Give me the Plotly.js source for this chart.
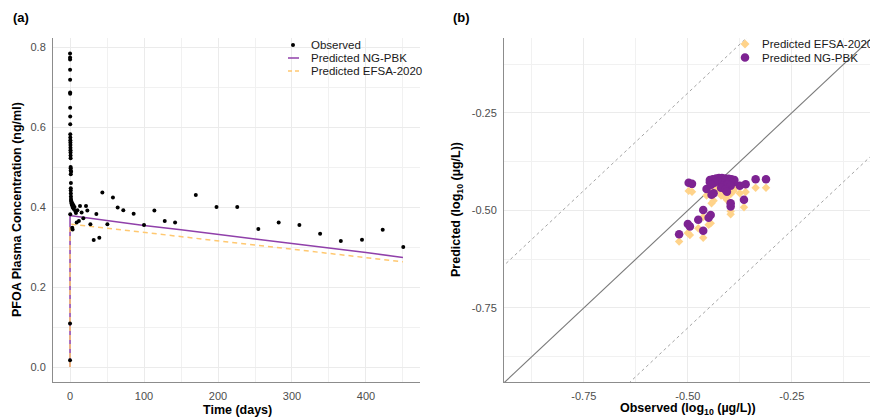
<!DOCTYPE html>
<html>
<head>
<meta charset="utf-8">
<script src="https://cdn.plot.ly/plotly-3.0.1.min.js"></script>
<style>html,body{margin:0;padding:0;background:#fff;}#chart{width:870px;height:418px;}</style>
</head>
<body>
<div id="chart"></div>
<script>
// ---------- Panel (a): observed PFOA plasma concentration over time ----------
const obsTime = [0.01,0.02,0.04,0.06,0.08,0.1,0.12,0.15,0.17,0.2,0.25,0.3,0.35,0.4,0.45,0.5,0.55,0.6,0.65,0.7,0.75,0.8,0.85,0.9,0.95,1.5,1.0,1.2,1.0,1.0,1.1,1.2,1.3,1.5,1.6,2,2.5,3,3.5,4,4.5,5,6,7,8,9,10,12,13.5,15.7,18,21.6,23.4,0.3,3,3.5,27.5,32,35.6,39.6,43.7,50.5,58,64.4,72,86,100,114,128,142,170,198,226,254.5,282,310,338,366,394.6,422.6,450.4];
const obsConc = [0.017,0.109,0.784,0.774,0.769,0.743,0.718,0.686,0.683,0.648,0.626,0.607,0.582,0.574,0.567,0.561,0.555,0.548,0.542,0.536,0.529,0.522,0.500,0.497,0.491,0.488,0.482,0.460,0.447,0.441,0.434,0.426,0.420,0.416,0.413,0.409,0.405,0.410,0.400,0.398,0.405,0.395,0.400,0.390,0.385,0.361,0.392,0.365,0.4025,0.386,0.372,0.4025,0.391,0.382,0.348,0.344,0.357,0.3175,0.3825,0.323,0.436,0.357,0.4235,0.399,0.392,0.383,0.355,0.391,0.365,0.361,0.430,0.400,0.400,0.345,0.361,0.355,0.333,0.315,0.318,0.343,0.300];

const ngTime  = [0, 0.02, 2, 50, 100, 150, 200, 250, 300, 350, 400, 450];
const ngConc  = [0, 0.378, 0.378, 0.366, 0.354, 0.343, 0.331, 0.320, 0.309, 0.298, 0.286, 0.274];
const efTime  = [0, 0.02, 2, 50, 100, 150, 200, 250, 300, 350, 400, 450];
const efConc  = [0, 0.357, 0.357, 0.347, 0.336, 0.326, 0.315, 0.305, 0.294, 0.284, 0.273, 0.263];

// ---------- Panel (b): predicted vs observed (log10 µg/L) ----------
const obsLog  = [-0.521,-0.463,-0.500,-0.495,-0.475,-0.450,-0.445,-0.463,-0.397,-0.397,-0.365,-0.443,-0.438,-0.408,-0.455,-0.417,-0.407,-0.375,-0.361,-0.447,-0.498,-0.490,-0.337,-0.312,
                 -0.447,-0.440,-0.432,-0.425,-0.418,-0.410,-0.402,-0.395,-0.388,-0.390,-0.398,-0.413,-0.420,-0.428,-0.436,-0.444,-0.416,-0.404,-0.397,-0.420,-0.410,-0.406];
const ngLog   = [-0.561,-0.552,-0.535,-0.541,-0.524,-0.519,-0.512,-0.499,-0.490,-0.482,-0.473,-0.460,-0.456,-0.447,-0.445,-0.438,-0.433,-0.437,-0.433,-0.428,-0.429,-0.432,-0.420,-0.420,
                 -0.422,-0.420,-0.418,-0.417,-0.417,-0.418,-0.419,-0.420,-0.422,-0.428,-0.427,-0.424,-0.428,-0.426,-0.429,-0.434,-0.436,-0.433,-0.437,-0.442,-0.446,-0.452];
const efsaLog = [-0.580,-0.570,-0.558,-0.563,-0.546,-0.537,-0.533,-0.517,-0.510,-0.502,-0.492,-0.482,-0.475,-0.469,-0.462,-0.458,-0.452,-0.456,-0.453,-0.448,-0.450,-0.452,-0.442,-0.442,
                 -0.445,-0.443,-0.441,-0.440,-0.439,-0.440,-0.441,-0.442,-0.444,-0.450,-0.449,-0.446,-0.450,-0.448,-0.451,-0.455,-0.457,-0.454,-0.458,-0.462,-0.466,-0.473];

// reference lines (1:1 and 2-fold)
const refX     = [-1, 0];
const refY     = [-1, 0];
const upperY   = [-0.699, 0.301];
const lowerY   = [-1.301, -0.301];

const W = 870, H = 418;
const px = v => v / W;
const py = v => 1 - v / H;

const PURPLE = '#7D2392';
const PURPLE_LINE = '#9040AA';
const ORANGE = '#FFD38A';
const ORANGE_LINE = '#FFC870';
const FONT = 'Liberation Sans, Arial, Helvetica, sans-serif';

const traces = [
  {x: ngTime, y: ngConc, type: 'scatter', mode: 'lines', line: {color: PURPLE_LINE, width: 1.5}, xaxis: 'x', yaxis: 'y', showlegend: false, hoverinfo: 'skip'},
  {x: efTime, y: efConc, type: 'scatter', mode: 'lines', line: {color: ORANGE_LINE, width: 1.5, dash: '5px,4px'}, xaxis: 'x', yaxis: 'y', showlegend: false},
  {x: obsTime, y: obsConc, type: 'scatter', mode: 'markers', marker: {color: '#000', size: 4}, xaxis: 'x', yaxis: 'y', showlegend: false},

  {x: refX, y: upperY, type: 'scatter', mode: 'lines', line: {color: '#9a9a9a', width: 0.9, dash: '3px,3px'}, xaxis: 'x2', yaxis: 'y2', showlegend: false},
  {x: refX, y: lowerY, type: 'scatter', mode: 'lines', line: {color: '#9a9a9a', width: 0.9, dash: '3px,3px'}, xaxis: 'x2', yaxis: 'y2', showlegend: false},
  {x: refX, y: refY, type: 'scatter', mode: 'lines', line: {color: '#7a7a7a', width: 1.1}, xaxis: 'x2', yaxis: 'y2', showlegend: false},
  {x: obsLog, y: efsaLog, type: 'scatter', mode: 'markers', marker: {color: ORANGE, size: 6.5, symbol: 'diamond'}, xaxis: 'x2', yaxis: 'y2', showlegend: false},
  {x: obsLog, y: ngLog, type: 'scatter', mode: 'markers', marker: {color: PURPLE, size: 8.5, symbol: 'circle'}, xaxis: 'x2', yaxis: 'y2', showlegend: false}
];

const gridC = '#ebebeb';
const axisCommon = {
  showline: true, linecolor: '#8c8c8c', linewidth: 1, zeroline: false,
  gridcolor: gridC, gridwidth: 1, ticks: '', ticklabelstandoff: 4,
  tickfont: {family: FONT, size: 11, color: '#4d4d4d'}, fixedrange: true
};

const yDom = [1 - 382 / H, 1 - 38 / H];

const layout = {
  width: W, height: H,
  margin: {l: 0, r: 0, t: 0, b: 0},
  paper_bgcolor: '#fff', plot_bgcolor: '#fff',
  font: {family: FONT},
  showlegend: false,
  xaxis: Object.assign({}, axisCommon, {
    domain: [53 / W, 420 / W], range: [-23, 473], anchor: 'y',
    tickvals: [0, 100, 200, 300, 400],
    minor: {dtick: 50, tick0: 0, showgrid: true, gridcolor: '#f1f1f1', gridwidth: 1, ticks: ''}
  }),
  yaxis: Object.assign({}, axisCommon, {
    domain: yDom, range: [-0.0375, 0.8225], anchor: 'x',
    tickvals: [0, 0.2, 0.4, 0.6, 0.8], ticktext: ['0.0', '0.2', '0.4', '0.6', '0.8'],
    minor: {dtick: 0.1, tick0: 0, showgrid: true, gridcolor: '#f1f1f1', gridwidth: 1, ticks: ''}
  }),
  xaxis2: Object.assign({}, axisCommon, {
    domain: [504 / W, 1], range: [-0.942, -0.062], anchor: 'y2',
    tickvals: [-0.75, -0.5, -0.25], ticktext: ['-0.75', '-0.50', '-0.25'],
    minor: {dtick: 0.125, tick0: 0, showgrid: true, gridcolor: '#f1f1f1', gridwidth: 1, ticks: ''}
  }),
  yaxis2: Object.assign({}, axisCommon, {
    domain: yDom, range: [-0.94, -0.058], anchor: 'x2',
    tickvals: [-0.75, -0.5, -0.25], ticktext: ['-0.75', '-0.50', '-0.25'],
    minor: {dtick: 0.125, tick0: 0, showgrid: true, gridcolor: '#f1f1f1', gridwidth: 1, ticks: ''}
  }),
  annotations: [
    {text: '<b>(a)</b>', x: px(11), y: py(17), xref: 'paper', yref: 'paper', xanchor: 'left', yanchor: 'middle', showarrow: false, font: {size: 13, color: '#000'}},
    {text: '<b>(b)</b>', x: px(451), y: py(17), xref: 'paper', yref: 'paper', xanchor: 'left', yanchor: 'middle', showarrow: false, font: {size: 13, color: '#000'}},
    {text: '<b>Time (days)</b>', x: px(237), y: py(410), xref: 'paper', yref: 'paper', xanchor: 'center', yanchor: 'middle', showarrow: false, font: {size: 12.5, color: '#000'}},
    {text: '<b>PFOA Plasma Concentration (ng/ml)</b>', x: px(17), y: py(210), xref: 'paper', yref: 'paper', xanchor: 'center', yanchor: 'middle', textangle: -90, showarrow: false, font: {size: 12.5, color: '#000'}},
    {text: '<b>Observed (log<sub>10</sub> (µg/L))</b>', x: px(688), y: py(409), xref: 'paper', yref: 'paper', xanchor: 'center', yanchor: 'middle', showarrow: false, font: {size: 12.5, color: '#000'}},
    {text: '<b>Predicted (log<sub>10</sub> (µg/L))</b>', x: px(457), y: py(210), xref: 'paper', yref: 'paper', xanchor: 'center', yanchor: 'middle', textangle: -90, showarrow: false, font: {size: 12.5, color: '#000'}},
    // legend (a)
    {text: 'Observed', x: px(309), y: py(45), xref: 'paper', yref: 'paper', xanchor: 'left', yanchor: 'middle', showarrow: false, font: {size: 11.5, color: '#1a1a1a'}},
    {text: 'Predicted NG-PBK', x: px(309), y: py(58), xref: 'paper', yref: 'paper', xanchor: 'left', yanchor: 'middle', showarrow: false, font: {size: 11.5, color: '#1a1a1a'}},
    {text: 'Predicted EFSA-2020', x: px(309), y: py(71), xref: 'paper', yref: 'paper', xanchor: 'left', yanchor: 'middle', showarrow: false, font: {size: 11.5, color: '#1a1a1a'}},
    // legend (b)
    {text: 'Predicted EFSA-2020', x: px(760), y: py(44), xref: 'paper', yref: 'paper', xanchor: 'left', yanchor: 'middle', showarrow: false, font: {size: 11.5, color: '#1a1a1a'}},
    {text: 'Predicted NG-PBK', x: px(760), y: py(58), xref: 'paper', yref: 'paper', xanchor: 'left', yanchor: 'middle', showarrow: false, font: {size: 11.5, color: '#1a1a1a'}}
  ],
  shapes: [
    // legend (a) keys
    {type: 'circle', xref: 'paper', yref: 'paper', xsizemode: 'pixel', ysizemode: 'pixel', xanchor: px(293), yanchor: py(45), x0: -2, x1: 2, y0: -2, y1: 2, fillcolor: '#000', line: {width: 0}},
    {type: 'line', xref: 'paper', yref: 'paper', x0: px(288), x1: px(299), y0: py(58), y1: py(58), line: {color: PURPLE_LINE, width: 1.5}},
    {type: 'line', xref: 'paper', yref: 'paper', x0: px(288), x1: px(299), y0: py(71), y1: py(71), line: {color: ORANGE_LINE, width: 1.5, dash: '4px,3px'}},
    // legend (b) keys
    {type: 'path', xref: 'paper', yref: 'paper', xsizemode: 'pixel', ysizemode: 'pixel', xanchor: px(745), yanchor: py(44), path: 'M0,4.5 L4.5,0 L0,-4.5 L-4.5,0 Z', fillcolor: ORANGE, line: {width: 0}},
    {type: 'circle', xref: 'paper', yref: 'paper', xsizemode: 'pixel', ysizemode: 'pixel', xanchor: px(745), yanchor: py(57.5), x0: -4.3, x1: 4.3, y0: -4.3, y1: 4.3, fillcolor: PURPLE, line: {width: 0}}
  ]
};

Plotly.newPlot('chart', traces, layout, {displayModeBar: false, staticPlot: true});
</script>
</body>
</html>
